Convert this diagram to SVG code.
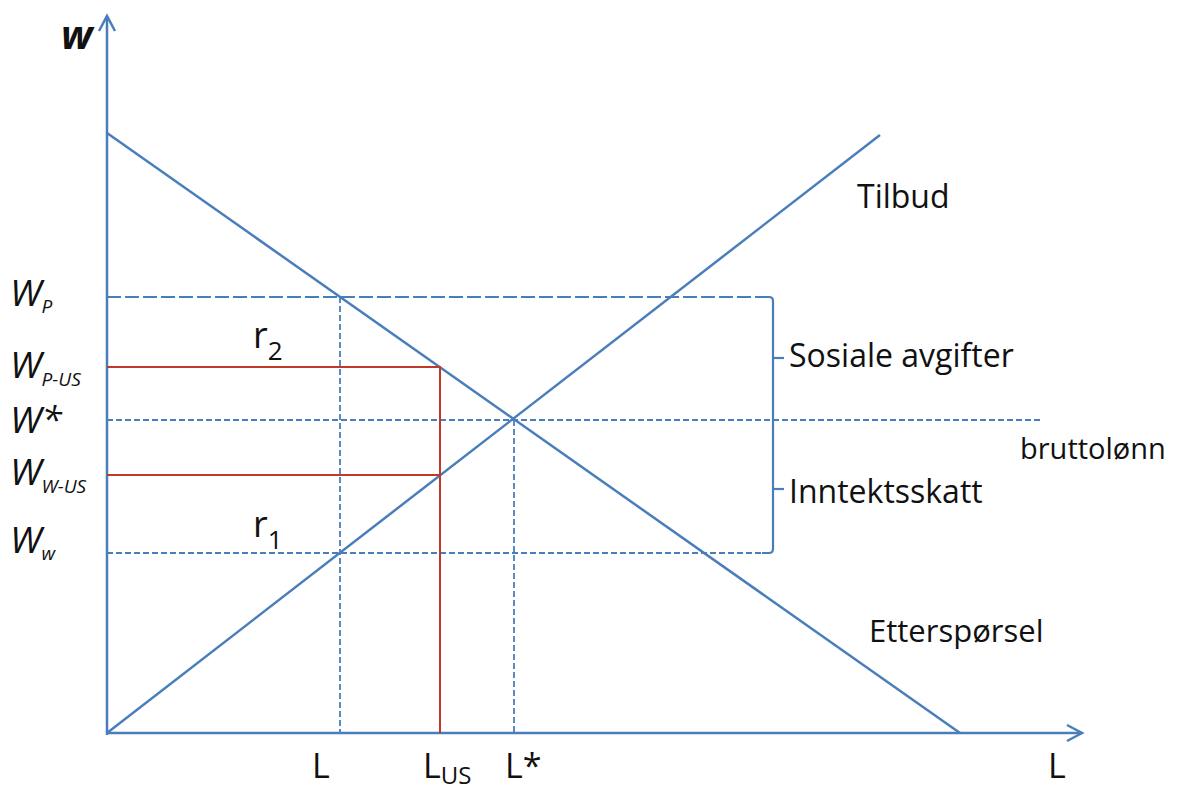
<svg xmlns="http://www.w3.org/2000/svg" width="1179" height="790" viewBox="0 0 1179 790">
<style>
.ax{stroke:#4a7ebb;stroke-width:2.5;fill:none}
.crv{stroke:#4a7ebb;stroke-width:2.5;fill:none}
.dl{stroke:#4a7ebb;stroke-width:1.8;fill:none;stroke-dasharray:6 3}
.dll{stroke:#4a7ebb;stroke-width:1.8;fill:none;stroke-dasharray:14 4}
.br{stroke:#4a7ebb;stroke-width:2.2;fill:none}
.red{stroke:#c0392b;stroke-width:2;fill:none}
.t{font-family:"Open Sans","Liberation Sans",sans-serif;fill:#111}
.wi{font-family:"Open Sans","Liberation Sans",sans-serif;font-style:italic;fill:#111}
</style>
<rect width="1179" height="790" fill="#fff"/>
<g id="connectors">
<line class="ax" x1="107" y1="735" x2="107" y2="16"/>
<polyline class="ax" points="99,31 107,16 115,31"/>
<line class="ax" x1="106" y1="733" x2="1082" y2="733"/>
<polyline class="ax" points="1067,725 1082,733 1067,741"/>
<line class="crv" x1="107" y1="133" x2="960" y2="733"/>
<line class="crv" x1="107" y1="733" x2="880" y2="135"/>
<line class="dll" x1="107" y1="297" x2="768" y2="297"/>
<line class="dl" x1="107" y1="420" x2="1043" y2="420"/>
<line class="dl" x1="107" y1="553" x2="768" y2="553"/>
<line class="dl" x1="340" y1="297" x2="340" y2="733"/>
<line class="dl" x1="514" y1="420" x2="514" y2="733"/>
<polyline class="red" points="107,367 440,367 440,733"/>
<line class="red" x1="107" y1="475" x2="440" y2="475"/>
<path class="br" d="M762,297 H769 Q773,297 773,301 V549 Q773,553 769,553 H762"/>
<line class="br" x1="773" y1="358" x2="784" y2="358"/>
<line class="br" x1="773" y1="489" x2="784" y2="489"/>
</g>
<g id="axis-labels">
<text class="t" x="61" y="49" font-size="40" font-weight="bold" font-style="italic">w</text>
<text class="wi" x="10" y="306" font-size="37">W<tspan font-size="19" dy="7">P</tspan></text>
<text class="wi" x="10" y="378" font-size="37">W<tspan font-size="19" dy="8">P-US</tspan></text>
<text class="wi" x="10" y="433" font-size="37">W*</text>
<text class="wi" x="10" y="485" font-size="37">W<tspan font-size="19" dy="8">W-US</tspan></text>
<text class="wi" x="10" y="553" font-size="37">W<tspan font-size="19" dy="7">w</tspan></text>
<text class="t" x="312" y="778" font-size="34">L</text>
<text class="t" x="423" y="778" font-size="34">L<tspan font-size="24" dy="6">US</tspan></text>
<text class="t" x="505" y="778" font-size="34">L*</text>
<text class="t" x="1048" y="778" font-size="34">L</text>
</g>
<g id="node-r2"><text class="t" x="253" y="348" font-size="36">r<tspan font-size="26" dy="12">2</tspan></text></g>
<g id="node-r1"><text class="t" x="253" y="537" font-size="36">r<tspan font-size="26" dy="12">1</tspan></text></g>
<g id="node-tilbud"><text class="t" x="857" y="208" font-size="32">Tilbud</text></g>
<g id="node-etterspoersel"><text class="t" x="869" y="642" font-size="31">Etterspørsel</text></g>
<g id="node-sosiale"><text class="t" x="789" y="367" font-size="32">Sosiale avgifter</text></g>
<g id="node-inntektsskatt"><text class="t" x="789" y="503" font-size="32">Inntektsskatt</text></g>
<g id="node-brutto"><text class="t" x="1020" y="459" font-size="29">bruttolønn</text></g>
</svg>
